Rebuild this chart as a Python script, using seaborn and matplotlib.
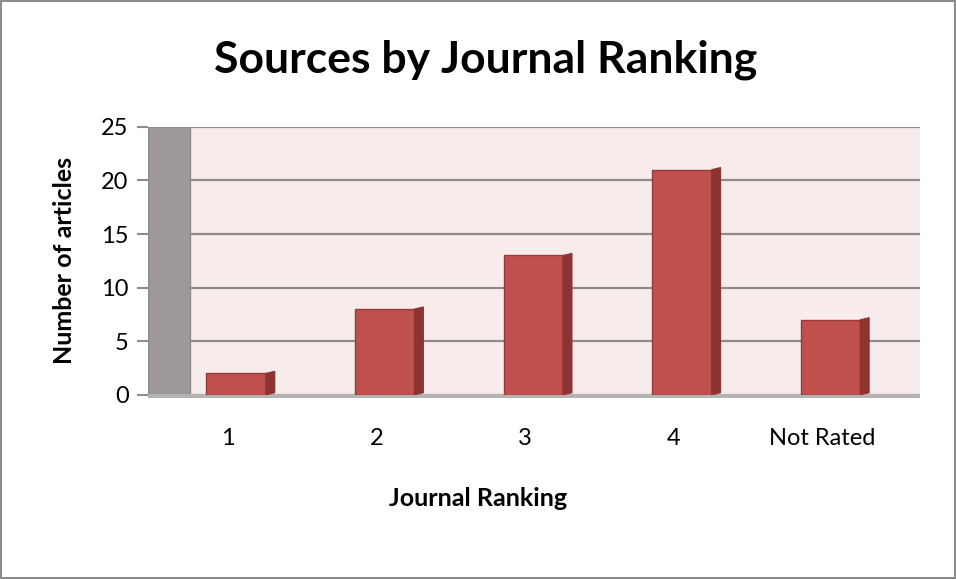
import matplotlib.pyplot as plt
import matplotlib.transforms as mtransforms
import seaborn as sns
from matplotlib.patches import Polygon, Rectangle

sns.set_style("white")
plt.rcParams['font.family'] = ['Lato', 'DejaVu Sans']
plt.rcParams['text.color'] = 'black'
plt.rcParams['axes.labelcolor'] = 'black'
plt.rcParams['xtick.color'] = 'black'
plt.rcParams['ytick.color'] = 'black'

rankings = ["1", "2", "3", "4", "Not Rated"]
articles = [2, 8, 13, 21, 7]

bar_color = "#C0504D"
side_color = "#8B3432"
wall_color = "#F8EBEB"

fig = plt.figure(figsize=(9.56, 5.79), dpi=100)
fig.patch.set_edgecolor("#8C8C8C")
fig.patch.set_linewidth(1.5)

ax = fig.add_axes([0.155, 0.318, 0.807, 0.463])
ax.set_facecolor(wall_color)

sns.barplot(x=rankings, y=articles, color=bar_color, width=0.4,
            saturation=1, edgecolor="#9A3A37", linewidth=1, ax=ax, zorder=3)
bars = list(ax.patches)

ax.set_xlim(-0.592, 4.6)
ax.set_ylim(0, 25)
ax.set_yticks([0, 5, 10, 15, 20, 25])
ax.yaxis.grid(True, color="#8C8C8C", linewidth=1.6, zorder=1)
ax.set_axisbelow(True)

# left wall and floor of the 3-D look
ax.add_patch(Rectangle((0, 0), 0.054, 1, transform=ax.transAxes,
                       facecolor="#9E9898", edgecolor="#8C8C8C", zorder=2))
ax.add_patch(Rectangle((0, -0.012), 1, 0.014, transform=ax.transAxes,
                       facecolor="#B5B2B2", edgecolor="none", zorder=2,
                       clip_on=False))

# side faces of the bars
for p in bars:
    x1 = p.get_x() + p.get_width()
    h = p.get_height()
    dx = 0.06
    dy = 0.2
    ax.add_patch(Polygon([(x1, 0), (x1 + dx, dy), (x1 + dx, h + dy), (x1, h)],
                         closed=True, facecolor=side_color, edgecolor=side_color,
                         linewidth=0.8, zorder=3))

for s in ax.spines.values():
    s.set_visible(False)

ax.tick_params(axis="y", labelsize=17, length=8, width=1.5, color="#8C8C8C", pad=6,
               left=True)
ax.tick_params(axis="x", labelsize=17, length=0, pad=24)
shift = mtransforms.ScaledTranslation(-8 / 100, 0, fig.dpi_scale_trans)
for lbl in ax.get_xticklabels():
    lbl.set_transform(lbl.get_transform() + shift)

ax.set_xlabel("Journal Ranking", fontsize=18, fontweight="bold")
ax.set_ylabel("Number of articles", fontsize=18, fontweight="bold")
ax.xaxis.set_label_coords(0.5, (579 - 498) / 579, transform=fig.transFigure)
ax.yaxis.set_label_coords(65 / 956, 0.55, transform=fig.transFigure)
ax.xaxis.label.set_va("center")
ax.yaxis.label.set_va("center")

fig.text(0.508, 0.896, "Sources by Journal Ranking", ha="center", va="center",
         fontsize=32, fontweight="bold")

plt.savefig("out.png", dpi=100)
plt.close()
